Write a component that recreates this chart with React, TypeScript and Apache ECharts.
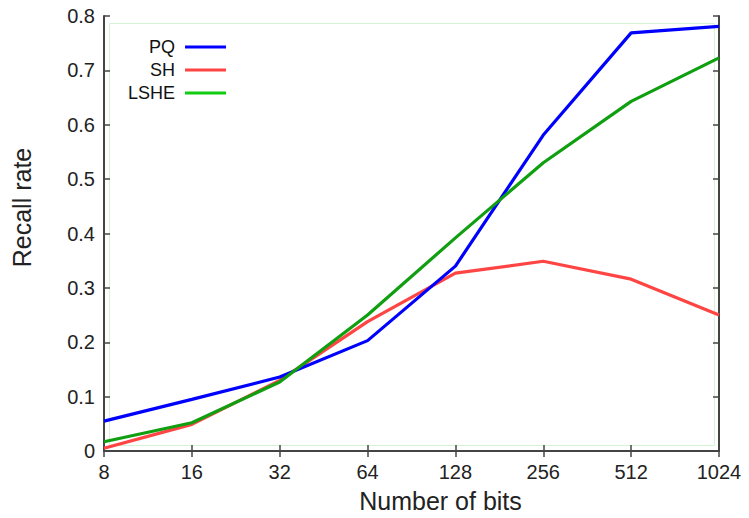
import React, { useEffect, useRef } from "react";
import * as echarts from "echarts";

const categories = ["8", "16", "32", "64", "128", "256", "512", "1024"];
const pqValues = [0.055, 0.095, 0.136, 0.203, 0.34, 0.581, 0.769, 0.781];
const shValues = [0.005, 0.049, 0.13, 0.238, 0.327, 0.349, 0.316, 0.25];
const lsheValues = [0.017, 0.052, 0.127, 0.25, 0.392, 0.53, 0.643, 0.723];
const yTicks = [0, 0.1, 0.2, 0.3, 0.4, 0.5, 0.6, 0.7, 0.8];

export default function App() {
  const ref = useRef<HTMLDivElement>(null);
  useEffect(() => {
    if (!ref.current) return;
    document.body.style.margin = "0";
    const chart = echarts.init(ref.current, null, { renderer: "svg" });
    const axisColor = "#444";
    const font = "Liberation Sans, Arial, sans-serif";
    const mirrorAxis = {
      axisLine: { show: true, lineStyle: { color: axisColor, width: 2 } },
      axisTick: { show: true, inside: true, length: 6, lineStyle: { color: axisColor, width: 1.5 } },
      axisLabel: { show: false },
      splitLine: { show: false },
    };
    chart.setOption({
      animation: false,
      backgroundColor: "#fff",
      textStyle: { fontFamily: font },
      grid: { left: 104, right: 30, top: 16, bottom: 67, containLabel: false },
      legend: {
        orient: "vertical",
        align: "right",
        left: 128,
        top: 37,
        padding: 0,
        itemWidth: 41,
        itemHeight: 3,
        itemGap: 3,
        icon: "rect",
        textStyle: { fontSize: 18, color: "#111", fontFamily: font, lineHeight: 20, padding: [0, 5, 0, 0] },
        data: [
          { name: "PQ", itemStyle: { color: "#0000ff" } },
          { name: "SH", itemStyle: { color: "#ff4444" } },
          { name: "LSHE", itemStyle: { color: "#11cc11" } },
        ],
      },
      xAxis: [
        {
          type: "category",
          data: categories,
          boundaryGap: false,
          position: "bottom",
          name: "Number of bits",
          nameLocation: "middle",
          nameGap: 37,
          nameTextStyle: { fontSize: 25, color: "#222", padding: [0, 0, 0, 58] },
          axisLine: { show: true, lineStyle: { color: axisColor, width: 2 } },
          axisTick: { show: true, inside: true, length: 6, alignWithLabel: true, lineStyle: { color: axisColor, width: 1.5 } },
          axisLabel: { fontSize: 20, color: "#222", margin: 11 },
          splitLine: { show: false },
        },
        {
          type: "category",
          data: categories,
          boundaryGap: false,
          position: "top",
          ...mirrorAxis,
        },
      ],
      yAxis: [
        {
          type: "value",
          min: 0,
          max: 0.8,
          interval: 0.1,
          position: "left",
          name: "Recall rate",
          nameLocation: "middle",
          nameGap: 70,
          nameTextStyle: { fontSize: 25, color: "#222", padding: [0, 0, 0, 52] },
          axisLine: { show: true, lineStyle: { color: axisColor, width: 2 } },
          axisTick: { show: true, inside: true, length: 6, lineStyle: { color: axisColor, width: 1.5 } },
          axisLabel: {
            fontSize: 20,
            color: "#222",
            margin: 9,
            formatter: (v: number) => {
              const r = Math.round(v * 10) / 10;
              return yTicks.includes(r) ? (r === 0 ? "0" : r.toFixed(1)) : "";
            },
          },
          splitLine: { show: false },
        },
        {
          type: "value",
          min: 0,
          max: 0.8,
          interval: 0.1,
          position: "right",
          ...mirrorAxis,
        },
      ],
      graphic: [
        {
          type: "rect",
          left: 107,
          top: 21,
          shape: { width: 605, height: 422 },
          style: { fill: "none", stroke: "#d4f2d4", lineWidth: 1 },
          silent: true,
          z: 0,
        },
      ],
      series: [
        {
          name: "PQ",
          type: "line",
          data: pqValues,
          showSymbol: false,
          lineStyle: { color: "#0000ff", width: 3.2 },
          itemStyle: { color: "#0000ff" },
          z: 3,
        },
        {
          name: "SH",
          type: "line",
          data: shValues,
          showSymbol: false,
          lineStyle: { color: "#ff4444", width: 3.2 },
          itemStyle: { color: "#ff4444" },
          z: 2,
        },
        {
          name: "LSHE",
          type: "line",
          data: lsheValues,
          showSymbol: false,
          lineStyle: { color: "#109f10", width: 3.2 },
          itemStyle: { color: "#109f10" },
          z: 4,
        },
      ],
    });
    return () => chart.dispose();
  }, []);
  return <div ref={ref} style={{ width: 749, height: 518 }} />;
}
